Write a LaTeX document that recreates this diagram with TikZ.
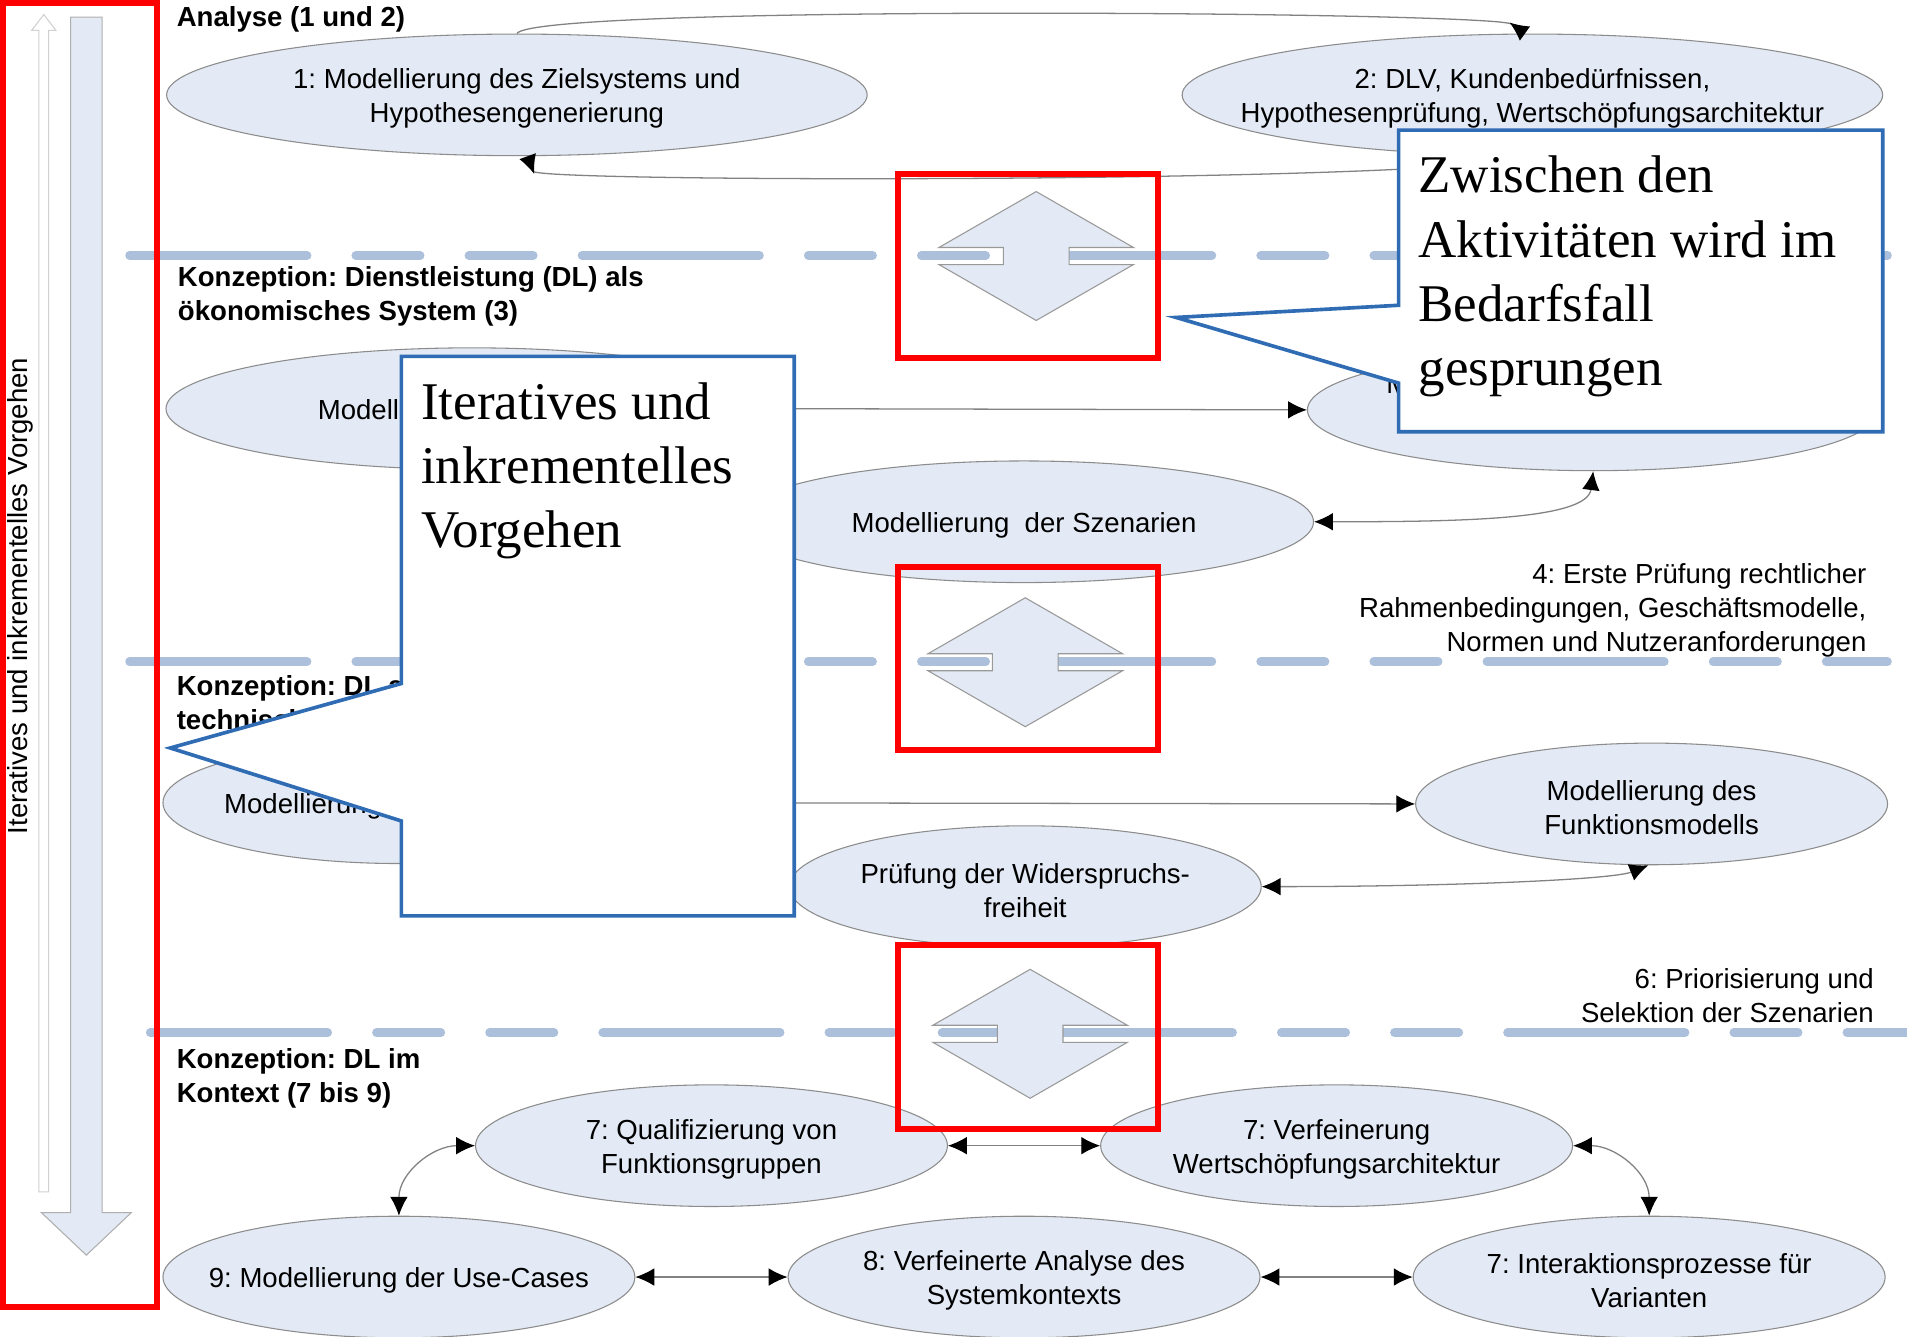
\documentclass[tikz,border=0pt]{standalone}
\usepackage{fontspec}
\setmainfont{Liberation Sans}
\newfontfamily\calloutfont{Liberation Serif}
\usepackage{xcolor}
\usetikzlibrary{arrows.meta, shapes.geometric, positioning}

\definecolor{blobfill}{RGB}{227,234,245}
\definecolor{blobline}{RGB}{140,140,140}
\definecolor{sepblue}{RGB}{173,192,219}
\definecolor{callblue}{RGB}{47,108,180}
\definecolor{conngray}{RGB}{130,130,130}

\newcommand{\lbl}{\fontsize{12.9}{15.9}\selectfont}
\frenchspacing

\begin{document}
\begin{tikzpicture}[
    x=0.2mm, y=-0.2mm,
    blob/.style={ellipse, draw=blobline, fill=blobfill, line width=0.5pt, inner sep=0pt, minimum width=77.6mm, minimum height=20mm},
    wideblob/.style={blob, minimum width=115.2mm},
    blobtext/.style={align=center, font=\lbl, inner sep=0pt, yshift=-0.6mm},
    heading/.style={anchor=north west, align=left, inner sep=0pt, font=\lbl\bfseries},
    note/.style={anchor=north east, align=right, inner sep=0pt, font=\lbl},
    sepline/.style={sepblue, line width=4pt, line cap=round, dash pattern=on 29.2mm off 8mm on 10.6mm off 8mm on 10.6mm off 8mm},
    jump/.style={draw=gray!80, fill=blobfill, line width=0.5pt},
    redbox/.style={draw=red, line width=2.8pt},
    callout/.style={draw=callblue, fill=white, line width=1.7pt, line join=miter},
    calltext/.style={anchor=north west, align=left, inner sep=0pt, font=\calloutfont\fontsize{24.8}{30.1}\selectfont},
    arrow/.style={-{Latex[length=3.1mm, width=2.9mm, color=black]}, draw=conngray, line width=0.6pt},
    backarrow/.style={-{Latex[length=3.1mm, width=2.9mm, color=black, reversed]}, draw=conngray, line width=0.6pt},
    twoway/.style={{Latex[length=3.1mm, width=2.9mm, color=black]}-{Latex[length=3.1mm, width=2.9mm, color=black]}, draw=conngray, line width=0.6pt}
]
\fill[white] (0,0) rectangle (1568,1099);
\useasboundingbox (0,0) rectangle (1568,1099);

% =====================
% Left side: direction of the procedure
% =====================
\draw[draw=blobline!70, fill=blobfill, line width=0.5pt] (58,14) -- (84,14) -- (84,997) -- (108,997) -- (71,1032) -- (34,997) -- (58,997) -- cycle;
\draw[draw=blobline!40, fill=white, line width=0.5pt] (36,12) -- (46,25) -- (40,25) -- (40,980) -- (32,980) -- (32,25) -- (26,25) -- cycle;
\node[rotate=90, font=\lbl, inner sep=0pt] (vtext) at (17,490) {Iteratives und inkrementelles Vorgehen};

% =====================
% Phase borders
% =====================
\draw[sepline] (106.5,210) -- (1552,210);
\draw[sepline] (106.5,544) -- (1552,544);
\draw[sepline] (123.5,849) -- (1568,849);

\foreach \cx/\cy in {852/210.5, 843/544.5, 847/850}
    \draw[jump, shift={(\cx,\cy)}] (0,-53) -- (80,-7) -- (27,-7) -- (27,7) -- (80,7) -- (0,53) -- (-80,7) -- (-27,7) -- (-27,-7) -- (-80,-7) -- cycle;

% =====================
% Analyse
% =====================
\node[wideblob, label={[blobtext]center:{1: Modellierung des Zielsystems und\\Hypothesengenerierung}}] (e1) at (425,78) {};
\node[wideblob, label={[blobtext]center:{2: DLV, Kundenbedürfnissen,\\Hypothesenprüfung, Wertschöpfungsarchitektur}}] (e2) at (1260,78) {};

% =====================
% Konzeption: oekonomisches System
% =====================
\node[blob, minimum width=100.6mm, label={[blobtext]center:{Modellierung der Akteure}}] (e3) at (388,336) {};
\node[blob, minimum width=94mm, label={[blobtext, yshift=1.6mm]center:{Modellierung der Leistungsbündel\\und Konzepte}}] (e4) at (1310,337) {};
\node[blob, minimum width=95.2mm, label={[blobtext]center:{Modellierung\ \ der Szenarien}}] (e5) at (842,429) {};

% =====================
% Konzeption: technisches System
% =====================
\node[blob, label={[blobtext]center:{Modellierung der Funktionen}}] (e6) at (328,660) {};
\node[blob, label={[blobtext]center:{Modellierung des\\Funktionsmodells}}] (e7) at (1358,661) {};
\node[blob, label={[blobtext]center:{Prüfung der Widerspruchs-\\freiheit}}] (e8) at (843,729) {};

% =====================
% Konzeption: Kontext
% =====================
\node[blob, label={[blobtext]center:{7: Qualifizierung von\\Funktionsgruppen}}] (e9) at (585,942) {};
\node[blob, label={[blobtext]center:{7: Verfeinerung\\Wertschöpfungsarchitektur}}] (e10) at (1099,942) {};
\node[blob, label={[blobtext]center:{9: Modellierung der Use-Cases}}] (e11) at (328,1050) {};
\node[blob, label={[blobtext]center:{8: Verfeinerte Analyse des\\Systemkontexts}}] (e12) at (842,1050) {};
\node[blob, label={[blobtext]center:{7: Interaktionsprozesse für\\Varianten}}] (e13) at (1356,1050) {};

% =====================
% Arrows
% =====================
\draw[backarrow] (e1.north) .. controls +(15,-24) and +(-25,-18) .. (e2.97);
\draw[backarrow] (e2.south) .. controls +(-60,22) and +(8,22) .. (e1.-80);
\draw[arrow] (e3.east) -- (e4.west);
\draw[twoway] (e5.east) .. controls +(120,0) and +(-5,40) .. (e4.south);

\draw[arrow] (e6.east) -- (e7.west);
\draw[twoway] (e8.east) .. controls +(150,0) and +(-30,12) .. (e7.-93);

\draw[twoway] (e9.east) -- (e10.west);
\draw[twoway] (e11.east) -- (e12.west);
\draw[twoway] (e12.east) -- (e13.west);
\draw[twoway] (e11.north) .. controls +(0,-35) and +(-35,0) .. (e9.west);
\draw[twoway] (e10.east) .. controls +(35,0) and +(0,-35) .. (e13.north);

% =====================
% Phase titles and notes
% =====================
\node[heading] (h1) at (145,5) {Analyse (1 und 2)};
\node[heading] (h2) at (146,219) {Konzeption: Dienstleistung (DL) als\\ökonomisches System (3)};
\node[heading] (h3) at (145,555) {Konzeption: DL als\\technisches System (5 und 6)};
\node[heading] (h4) at (145,862) {Konzeption: DL im\\Kontext (7 bis 9)};

\node[note] (n4) at (1535,463) {4: Erste Prüfung rechtlicher\\Rahmenbedingungen, Geschäftsmodelle,\\Normen und Nutzeranforderungen};
\node[note] (n6) at (1541,796) {6: Priorisierung und\\Selektion der Szenarien};

% =====================
% Highlights and callouts
% =====================
\draw[redbox] (2.5,2.5) rectangle (129,1075);
\draw[redbox] (738,143) rectangle (952,294);
\draw[redbox] (738,466) rectangle (952,617);
\draw[redbox] (738,777) rectangle (952,928);

\draw[callout] (330,293) -- (653,293) -- (653,753) -- (330,753) -- (330,675) -- (140,615) -- (330,562) -- cycle;
\node[calltext] (c1) at (346,314) {Iteratives und\\inkrementelles\\Vorgehen};

\draw[callout] (1150,107) -- (1548,107) -- (1548,355) -- (1150,355) -- (1150,315) -- (967,261) -- (1150,251) -- cycle;
\node[calltext] (c2) at (1166,128) {Zwischen den\\Aktivitäten wird im\\Bedarfsfall\\gesprungen};

\end{tikzpicture}
\end{document}
